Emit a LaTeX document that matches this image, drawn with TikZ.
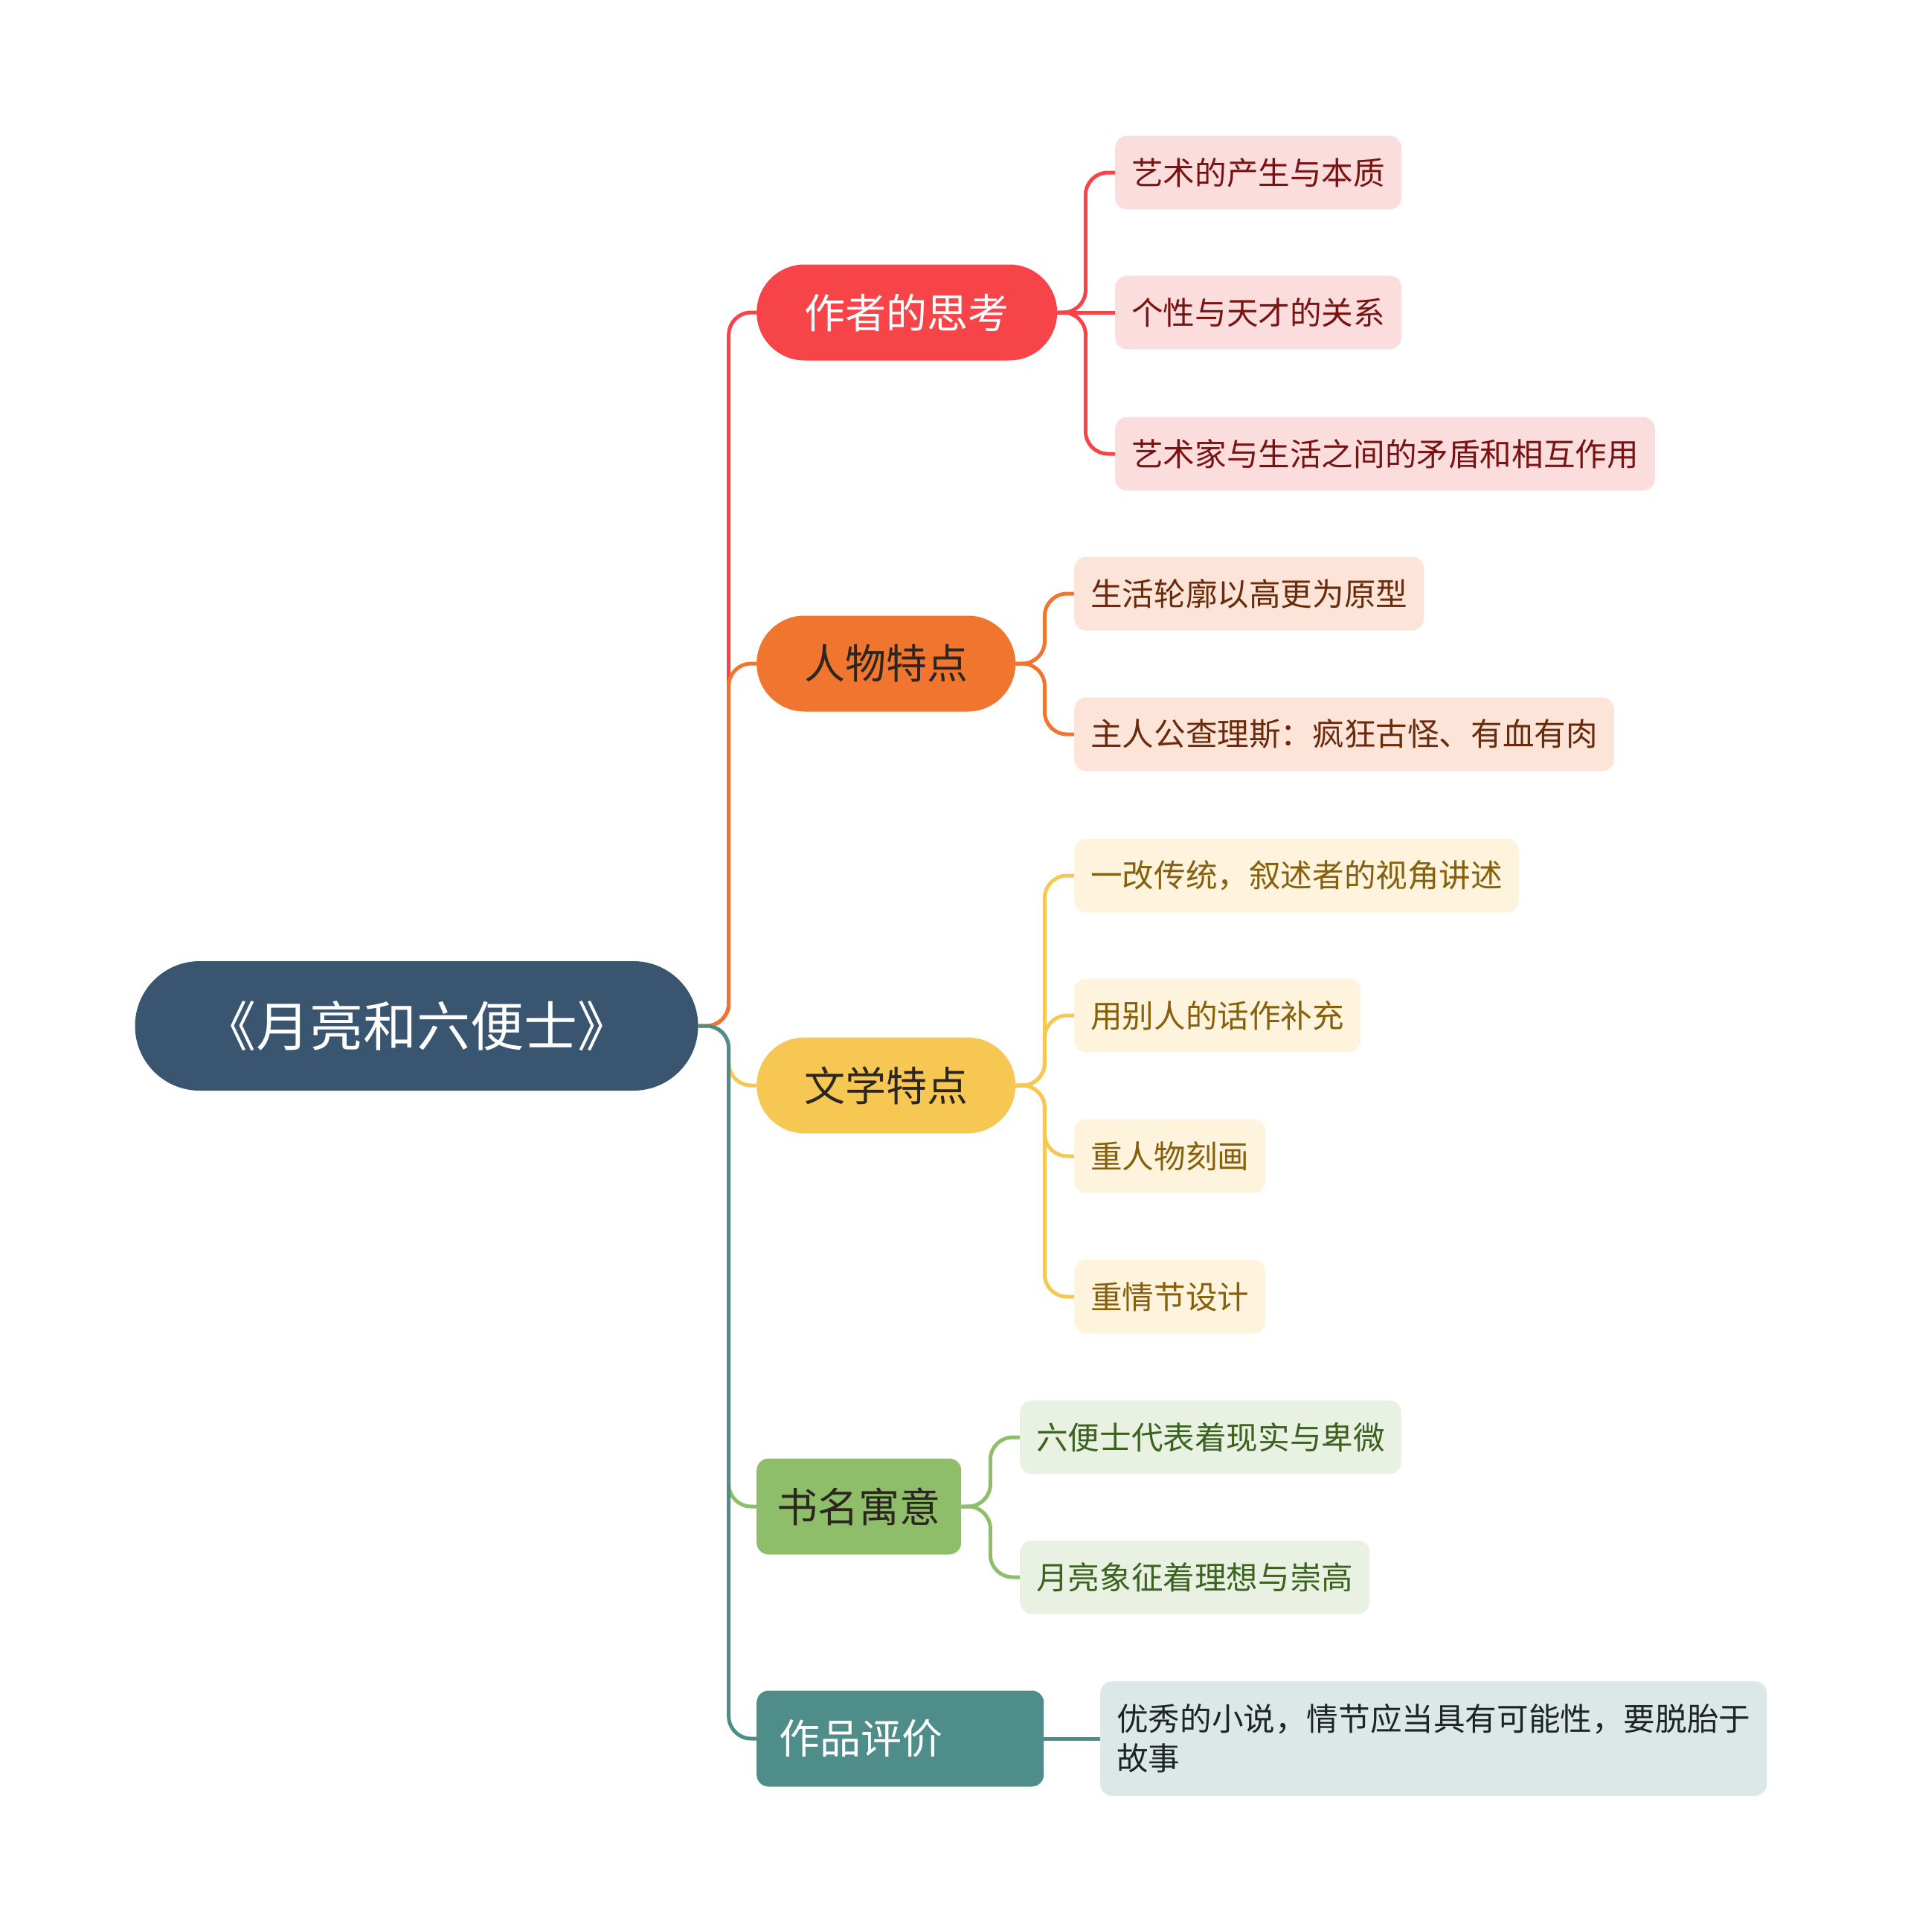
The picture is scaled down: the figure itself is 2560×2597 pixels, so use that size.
\documentclass[tikz,border=0pt]{standalone}
\usepackage{fontspec}
\setmainfont{Noto Sans CJK SC}
\usetikzlibrary{shapes.misc}
\definecolor{rootc}{HTML}{3A5570}
\definecolor{redc}{HTML}{F64448}
\definecolor{redl}{HTML}{FCDDDD}
\definecolor{redt}{HTML}{7A1212}
\definecolor{orc}{HTML}{F0752F}
\definecolor{orl}{HTML}{FCE4D8}
\definecolor{ort}{HTML}{6A2B0C}
\definecolor{yec}{HTML}{F7C753}
\definecolor{yel}{HTML}{FEF4DD}
\definecolor{yet}{HTML}{86600C}
\definecolor{grc}{HTML}{8FBE6B}
\definecolor{grl}{HTML}{E9F2E2}
\definecolor{grt}{HTML}{3C6220}
\definecolor{tec}{HTML}{4E8D89}
\definecolor{tel}{HTML}{DCE8E8}
\definecolor{tet}{HTML}{1E2424}
\definecolor{darkt}{HTML}{2C2620}
\pgfdeclarelayer{bg}
\pgfsetlayers{bg,main}
\tikzset{
  leafbox/.style={rectangle, rounded corners=16pt, minimum height=99pt, inner xsep=22pt, inner ysep=0pt, anchor=west, font=\fontsize{42.6}{53}\selectfont},
  pill/.style={rounded rectangle, minimum height=129pt, inner sep=0pt, anchor=west, font=\fontsize{55}{66}\selectfont},
  mainbox/.style={rectangle, rounded corners=16pt, minimum height=129pt, inner ysep=0pt, anchor=west, font=\fontsize{55}{66}\selectfont},
  conn/.style={line width=5pt, rounded corners=30pt},
}
\begin{document}
\begin{tikzpicture}[x=1pt,y=-1pt]
\useasboundingbox (0,0) rectangle (2560,2597);
% root
\node[rounded rectangle, fill=rootc, text=white, minimum width=757pt, minimum height=174pt, inner sep=0pt, font=\fontsize{72}{84}\selectfont] (root) at (560,1379) {《月亮和六便士》};
% main branches
\node[pill, fill=redc, text=white, minimum width=404pt] (m1) at (1017,420) {作者的思考};
\node[pill, fill=orc, text=darkt, minimum width=348pt] (m2) at (1017,892) {人物特点};
\node[pill, fill=yec, text=darkt, minimum width=348pt] (m3) at (1017,1459) {文学特点};
\node[mainbox, fill=grc, text=darkt, minimum width=275pt, inner xsep=27pt] (m4) at (1017,2025) {书名寓意};
\node[mainbox, fill=tec, text=white, text width=326pt, align=left, inner xsep=30pt] (m5) at (1017,2337) {作品评价};
% leaves
\node[leafbox, fill=redl, text=redt] (a1) at (1499,232) {艺术的产生与本质};
\node[leafbox, fill=redl, text=redt] (a2) at (1499,420) {个性与天才的关系};
\node[leafbox, fill=redl, text=redt] (a3) at (1499,610) {艺术家与生活之间的矛盾和相互作用};
\node[leafbox, fill=orl, text=ort] (b1) at (1444,798) {生活轮廓以高更为原型};
\node[leafbox, fill=orl, text=ort] (b2) at (1444,987) {主人公查理斯：疯狂古怪、有血有肉};
\node[leafbox, fill=yel, text=yet] (c1) at (1444,1177) {一改传统，叙述者的视角讲述};
\node[leafbox, fill=yel, text=yet] (c2) at (1444,1365) {用别人的话作补充};
\node[leafbox, fill=yel, text=yet] (c3) at (1444,1554) {重人物刻画};
\node[leafbox, fill=yel, text=yet] (c4) at (1444,1743) {重情节设计};
\node[leafbox, fill=grl, text=grt] (d1) at (1371,1932) {六便士代表着现实与卑微};
\node[leafbox, fill=grl, text=grt] (d2) at (1371,2120) {月亮象征着理想与崇高};
\node[leafbox, fill=tel, text=tet, minimum height=154pt, align=left] (e1) at (1479,2337) {优秀的小说，情节应当具有可能性，要脱胎于\\故事};
% connectors
\begin{pgfonlayer}{bg}
\draw[conn, redc] (root.east) -- ++(41,0) |- (m1.west);
\draw[conn, orc] (root.east) -- ++(41,0) |- (m2.west);
\draw[conn, grc] (root.east) -- ++(41,0) |- (m4.west);
\draw[conn, yec] (root.east) -- ++(41,0) |- (m3.west);
\draw[conn, tec] (root.east) -- ++(41,0) |- (m5.west);
\draw[conn, redc] (m1.east) -- ++(38,0) |- (a1.west);
\draw[conn, redc] (m1.east) -- (a2.west);
\draw[conn, redc] (m1.east) -- ++(38,0) |- (a3.west);
\draw[conn, orc] (m2.east) -- ++(39,0) |- (b1.west);
\draw[conn, orc] (m2.east) -- ++(39,0) |- (b2.west);
\draw[conn, yec] (m3.east) -- ++(39,0) |- (c1.west);
\draw[conn, yec] (m3.east) -- ++(39,0) |- (c2.west);
\draw[conn, yec] (m3.east) -- ++(39,0) |- (c3.west);
\draw[conn, yec] (m3.east) -- ++(39,0) |- (c4.west);
\draw[conn, grc] (m4.east) -- ++(39,0) |- (d1.west);
\draw[conn, grc] (m4.east) -- ++(39,0) |- (d2.west);
\draw[conn, tec] (m5.east) -- (e1.west);
\end{pgfonlayer}
\end{tikzpicture}
\end{document}
